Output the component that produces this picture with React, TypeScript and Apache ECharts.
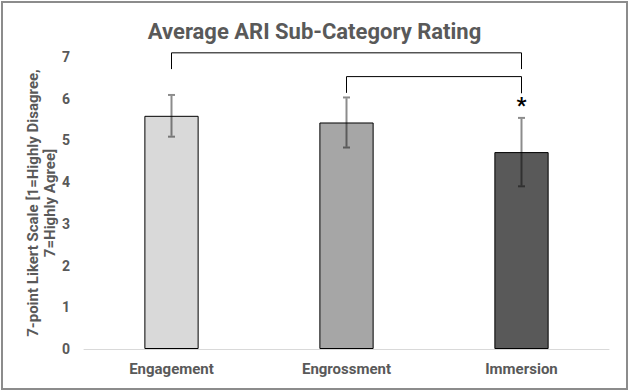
import React, { useEffect, useRef } from "react";
import * as echarts from "echarts";

const categories = ["Engagement", "Engrossment", "Immersion"];
const means = [5.59, 5.43, 4.72];
const errors = [0.5, 0.6, 0.82];
const barColors = ["#d9d9d9", "#a6a6a6", "#595959"];
const yTicks = [0, 7, 1];
// [fromCategory, toCategory, topValue, leftEndValue, rightEndValue]
const brackets = [
  [0.03, 2, 7.1, 6.71, 6.71],
  [1.03, 2, 6.53, 6.14, 6.13],
];
const significance = [[2, 5.9, "*"]];

export default function App() {
  const ref = useRef<HTMLDivElement>(null);
  useEffect(() => {
    const chart = echarts.init(ref.current!, null, { renderer: "svg" });
    const grey = "#595959";
    const font = "Roboto";
    chart.setOption({
      animation: false,
      backgroundColor: "#ffffff",
      title: {
        text: "Average ARI Sub-Category Rating",
        left: "center",
        top: 15,
        textStyle: { fontFamily: font, fontSize: 22, fontWeight: "bold", color: grey },
      },
      graphic: [
        {
          type: "rect",
          shape: { x: 2, y: 2, width: 625, height: 387 },
          style: { fill: "none", stroke: "#8c8c8c", lineWidth: 2 },
          silent: true,
        },
      ],
      grid: { left: 84, right: 20, top: 57, bottom: 42 },
      xAxis: {
        type: "category",
        data: categories,
        axisLine: { lineStyle: { color: "#d9d9d9", width: 1 } },
        axisTick: { show: false },
        axisLabel: { fontFamily: font, fontSize: 15, fontWeight: "bold", color: grey, margin: 12 },
      },
      yAxis: {
        type: "value",
        min: yTicks[0],
        max: yTicks[1],
        interval: yTicks[2],
        splitLine: { show: false },
        axisLine: { show: false },
        axisTick: { show: false },
        axisLabel: { fontFamily: font, fontSize: 14, fontWeight: "bold", color: grey, margin: 14 },
        name: "7-point Likert Scale [1=Highly Disagree,\n7=Highly Agree]",
        nameLocation: "middle",
        nameGap: 26,
        nameMoveOverlap: false,
        nameTextStyle: {
          fontFamily: font,
          fontSize: 15,
          fontWeight: "bold",
          color: grey,
          lineHeight: 17,
        },
      },
      series: [
        {
          type: "bar",
          data: means.map((v, i) => ({
            value: v,
            itemStyle: { color: barColors[i], borderColor: "#000000", borderWidth: 1 },
          })),
          barWidth: "31%",
        },
        {
          type: "custom",
          clip: false,
          data: means.map((m, i) => [i, m - errors[i], m + errors[i]]),
          renderItem: (params: any, api: any) => {
            const x = api.value(0);
            const lo = api.coord([x, api.value(1)]);
            const hi = api.coord([x, api.value(2)]);
            const cap = 3.5;
            const style = { stroke: "rgba(0,0,0,0.45)", lineWidth: 2 };
            return {
              type: "group",
              children: [
                { type: "line", shape: { x1: lo[0], y1: lo[1] - 1, x2: hi[0], y2: hi[1] + 1 }, style },
                { type: "line", shape: { x1: lo[0] - cap, y1: lo[1], x2: lo[0] + cap, y2: lo[1] }, style },
                { type: "line", shape: { x1: hi[0] - cap, y1: hi[1], x2: hi[0] + cap, y2: hi[1] }, style },
              ],
            };
          },
          z: 5,
        },
        {
          type: "custom",
          clip: false,
          data: brackets,
          renderItem: (params: any, api: any) => {
            const a = api.value(0);
            const b = api.value(1);
            const pTopL = api.coord([a, api.value(2)]);
            const pTopR = api.coord([b, api.value(2)]);
            const pL = api.coord([a, api.value(3)]);
            const pR = api.coord([b, api.value(4)]);
            return {
              type: "polyline",
              shape: { points: [pL, pTopL, pTopR, pR] },
              style: { stroke: "#000000", lineWidth: 1, fill: "none" },
            };
          },
          z: 5,
        },
        {
          type: "custom",
          clip: false,
          data: significance,
          renderItem: (params: any, api: any) => {
            const p = api.coord([api.value(0), api.value(1)]);
            return {
              type: "text",
              x: p[0],
              y: p[1] + 3,
              style: {
                text: significance[params.dataIndex][2] as string,
                fontFamily: font,
                fontSize: 22,
                fontWeight: "bold",
                fill: "#000000",
                align: "center",
                verticalAlign: "middle",
              },
            };
          },
          z: 5,
        },
      ],
    });
    return () => chart.dispose();
  }, []);
  return (
    <div
      ref={ref}
      style={{ position: "fixed", left: 0, top: 0, width: 629, height: 391 }}
    />
  );
}
